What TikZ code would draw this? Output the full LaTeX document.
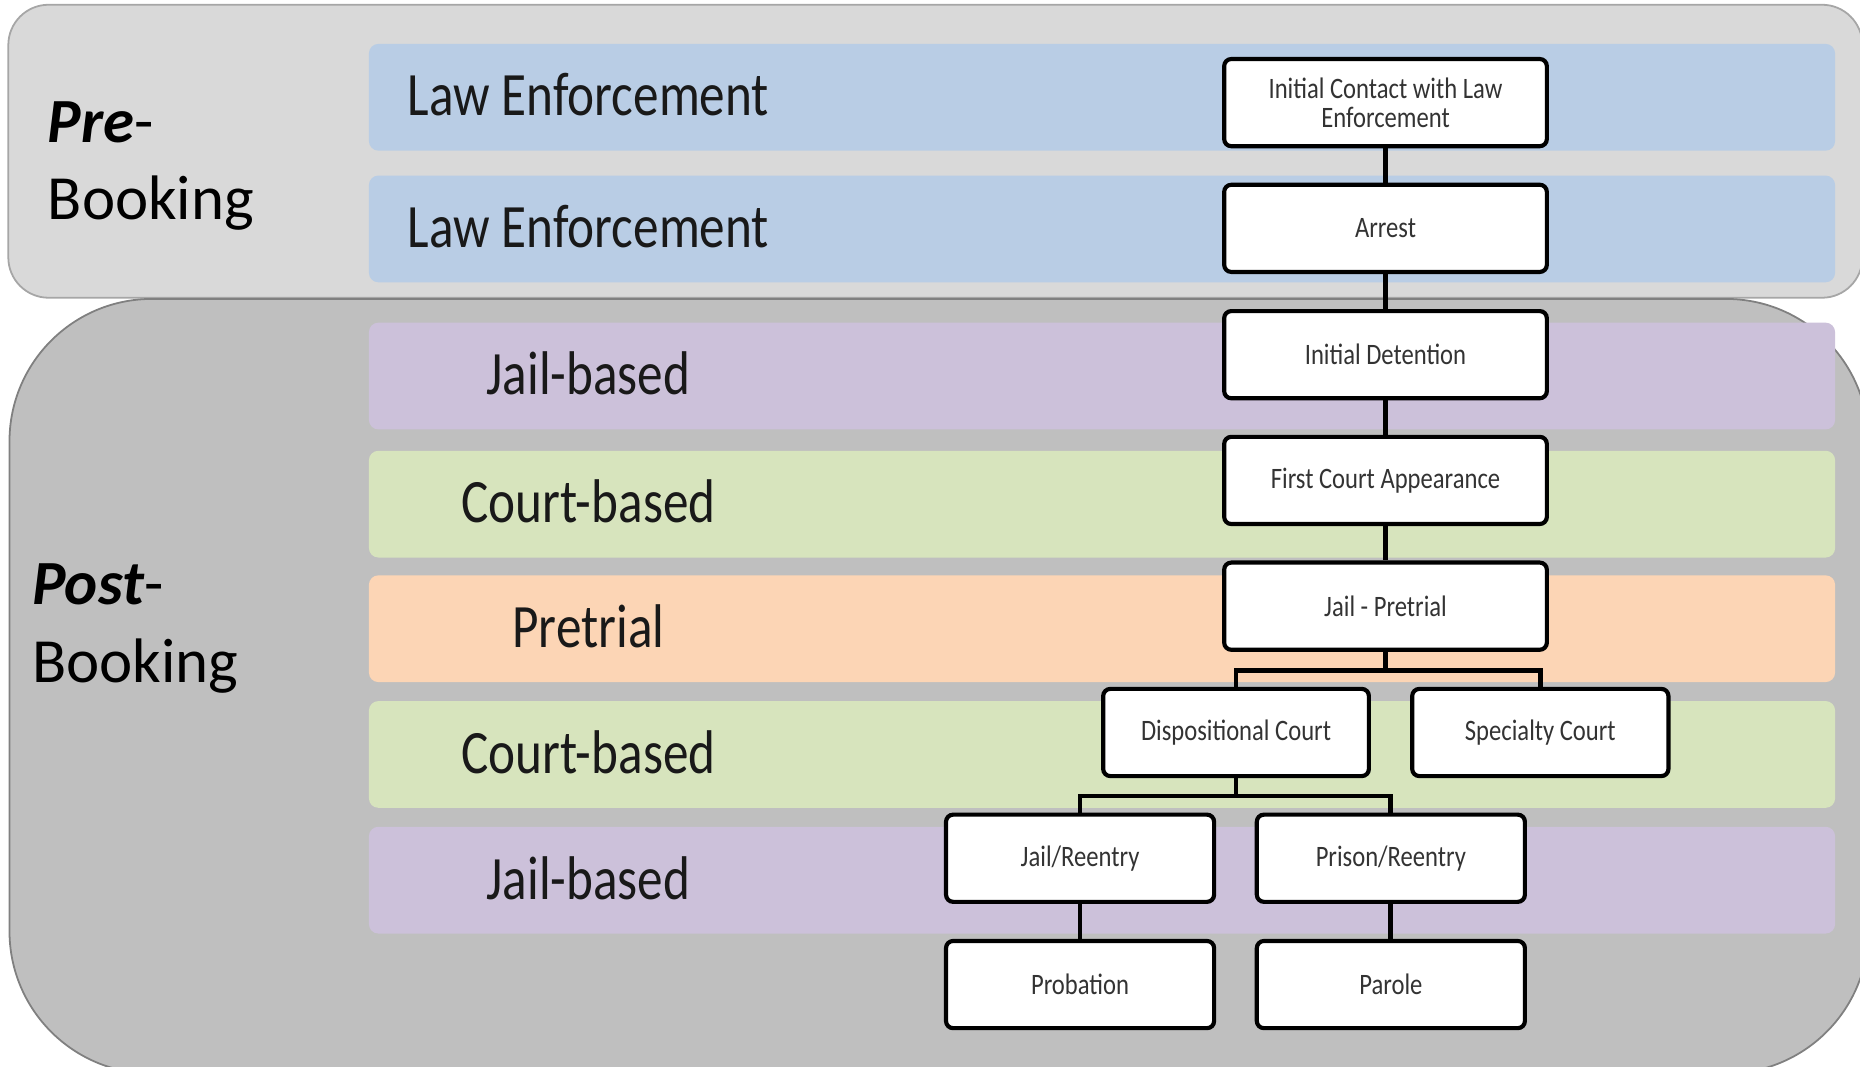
\documentclass[tikz,border=0pt]{standalone}
\usepackage{fontspec}
\setmainfont{Carlito}
\newfontfamily\thinfont[FakeStretch=0.83]{Carlito}
\usetikzlibrary{positioning}

\definecolor{preGrey}{HTML}{D9D9D9}
\definecolor{postGrey}{HTML}{BFBFBF}
\definecolor{lawBlue}{HTML}{B9CDE5}
\definecolor{jailPurple}{HTML}{CCC1DA}
\definecolor{courtGreen}{HTML}{D7E4BD}
\definecolor{pretrialOrange}{HTML}{FCD5B5}

\tikzset{
    band/.style={rounded corners=4pt},
    bandlabel/.style={font=\thinfont\fontsize{26}{30}\selectfont, text=black!90},
    phase/.style={font=\fontsize{26.5}{30}\selectfont, anchor=base west, inner sep=0pt},
    stage/.style={draw=black, line width=1.75pt, fill=white, rounded corners=3pt,
        align=center, minimum height=36.75pt, inner sep=2pt,
        font=\thinfont\fontsize{12.5}{12}\selectfont, text=black!80},
    link/.style={line width=2pt},
}

\begin{document}
\begin{tikzpicture}[x=0.5pt, y=-0.5pt]
    \useasboundingbox (0,0) rectangle (1568,899);
    \clip (0,0) rectangle (1568,899);

    % Panels
    \draw[fill=preGrey, draw=black!35, line width=0.75pt, rounded corners=17pt]
        (7,4) rectangle (1570,251);
    \draw[fill=postGrey, draw=black!50, line width=0.75pt, rounded corners=60pt]
        (8,252) rectangle (1575,905);

    % Bands
    \foreach \top/\col/\txt in {37/lawBlue/Law Enforcement, 148/lawBlue/Law Enforcement,
            272/jailPurple/Jail-based, 380/courtGreen/Court-based,
            485/pretrialOrange/Pretrial, 591/courtGreen/Court-based,
            697/jailPurple/Jail-based} {
        \fill[band, \col] (311,\top) rectangle (1547,\top+90);
        \node[bandlabel] at (496,\top+43) {\txt};
    }

    % Phase labels
    \node[phase] (pre) at (40,120) {\textbf{\textit{Pre}}-};
    \node[phase] (preb) at (40,185) {Booking};
    \node[phase] (post) at (27,510) {\textbf{\textit{Post}}-};
    \node[phase] (postb) at (27,575) {Booking};

    % Stages
    \node[stage, minimum width=136pt] (contact) at (1168,86.5) {Initial Contact with Law\\Enforcement};
    \node[stage, minimum width=136pt] (arrest) at (1168,192.5) {Arrest};
    \node[stage, minimum width=136pt] (detention) at (1168,299) {Initial Detention};
    \node[stage, minimum width=136pt] (firstcourt) at (1168,405) {First Court Appearance};
    \node[stage, minimum width=136pt] (jailpre) at (1168,511) {Jail - Pretrial};
    \node[stage, minimum width=112pt] (dispo) at (1042,617.5) {Dispositional Court};
    \node[stage, minimum width=108pt] (special) at (1298.5,617.5) {Specialty Court};
    \node[stage, minimum width=113pt] (jailre) at (910.5,723.5) {Jail/Reentry};
    \node[stage, minimum width=113pt] (prisonre) at (1172.5,723.5) {Prison/Reentry};
    \node[stage, minimum width=113pt] (probation) at (910.5,830) {Probation};
    \node[stage, minimum width=113pt] (parole) at (1172.5,830) {Parole};

    % Connectors
    \draw[link] (contact) -- (arrest);
    \draw[link] (arrest) -- (detention);
    \draw[link] (detention) -- (firstcourt);
    \draw[link] (firstcourt) -- (jailpre);
    \draw[link] (jailpre.south) -- ++(0,16) -| (dispo.north);
    \draw[link] (jailpre.south) -- ++(0,16) -| (special.north);
    \draw[link] (dispo.south) -- ++(0,15) -| (jailre.north);
    \draw[link] (dispo.south) -- ++(0,15) -| (prisonre.north);
    \draw[link] (jailre) -- (probation);
    \draw[link] (prisonre) -- (parole);
\end{tikzpicture}
\end{document}
